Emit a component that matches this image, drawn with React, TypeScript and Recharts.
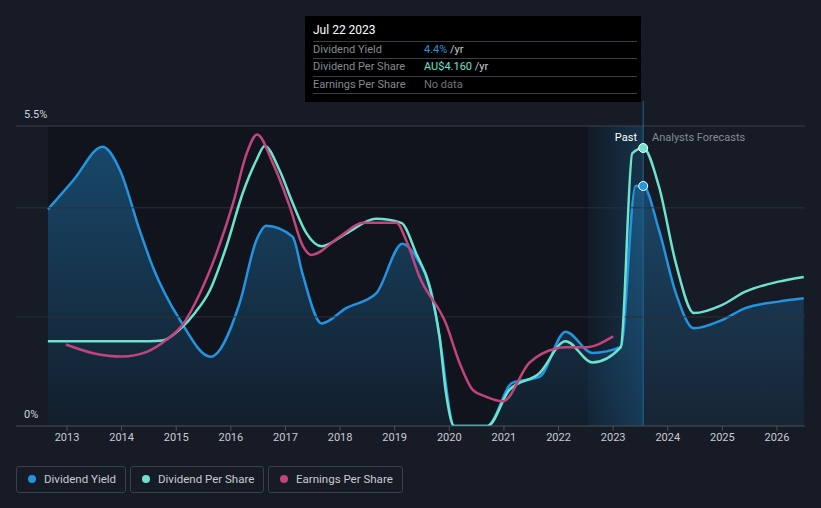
import React from 'react';
import {
  ComposedChart,
  Line,
  Area,
  XAxis,
  YAxis,
  ReferenceLine,
  ReferenceArea,
  ReferenceDot,
} from 'recharts';

// ---- data ----
const yearTicks = [2013, 2014, 2015, 2016, 2017, 2018, 2019, 2020, 2021, 2022, 2023, 2024, 2025, 2026];
const yieldLabels = [
  { v: 0, label: '0%' },
  { v: 5.5, label: '5.5%' },
];
const gridValues = [2, 4];

// Dividend yield (%)
const dividendYield = [
  { x: 2012.65, v: 3.97 },
  { x: 2013.12, v: 4.51 },
  { x: 2013.65, v: 5.12 },
  { x: 2013.97, v: 4.69 },
  { x: 2014.33, v: 3.59 },
  { x: 2014.57, v: 2.92 },
  { x: 2015.07, v: 1.94 },
  { x: 2015.63, v: 1.27 },
  { x: 2016.16, v: 2.25 },
  { x: 2016.47, v: 3.41 },
  { x: 2016.65, v: 3.67 },
  { x: 2017.13, v: 3.47 },
  { x: 2017.31, v: 2.8 },
  { x: 2017.66, v: 1.88 },
  { x: 2018.11, v: 2.16 },
  { x: 2018.66, v: 2.43 },
  { x: 2019.14, v: 3.34 },
  { x: 2019.39, v: 3.1 },
  { x: 2019.69, v: 2.37 },
  { x: 2019.82, v: 1.64 },
  { x: 2020.09, v: 0 },
  { x: 2020.7, v: 0 },
  { x: 2021.15, v: 0.79 },
  { x: 2021.65, v: 0.9 },
  { x: 2022.13, v: 1.73 },
  { x: 2022.62, v: 1.34 },
  { x: 2023.14, v: 1.45 },
  { x: 2023.41, v: 4.4 },
  { x: 2023.55, v: 4.4 },
  { x: 2023.84, v: 3.59 },
  { x: 2024.15, v: 2.43 },
  { x: 2024.48, v: 1.79 },
  { x: 2024.99, v: 1.94 },
  { x: 2025.42, v: 2.16 },
  { x: 2026.03, v: 2.28 },
  { x: 2026.49, v: 2.34 },
];

// Dividend per share (AU$)
const dividendPerShare = [
  { x: 2012.65, v: 1.27 },
  { x: 2013.5, v: 1.27 },
  { x: 2014.5, v: 1.27 },
  { x: 2014.75, v: 1.28 },
  { x: 2015.07, v: 1.45 },
  { x: 2015.35, v: 1.7 },
  { x: 2015.61, v: 2.02 },
  { x: 2015.92, v: 2.69 },
  { x: 2016.22, v: 3.49 },
  { x: 2016.47, v: 3.98 },
  { x: 2016.62, v: 4.19 },
  { x: 2016.89, v: 3.83 },
  { x: 2017.13, v: 3.34 },
  { x: 2017.38, v: 2.89 },
  { x: 2017.66, v: 2.69 },
  { x: 2018.11, v: 2.88 },
  { x: 2018.66, v: 3.1 },
  { x: 2019.12, v: 3.04 },
  { x: 2019.39, v: 2.59 },
  { x: 2019.64, v: 2.08 },
  { x: 2019.82, v: 1.34 },
  { x: 2019.94, v: 0.49 },
  { x: 2020.09, v: 0 },
  { x: 2020.7, v: 0 },
  { x: 2021.1, v: 0.54 },
  { x: 2021.65, v: 0.79 },
  { x: 2022.13, v: 1.27 },
  { x: 2022.62, v: 0.95 },
  { x: 2023.14, v: 1.18 },
  { x: 2023.35, v: 4.08 },
  { x: 2023.55, v: 4.16 },
  { x: 2023.84, v: 3.58 },
  { x: 2024.15, v: 2.43 },
  { x: 2024.48, v: 1.69 },
  { x: 2024.99, v: 1.81 },
  { x: 2025.42, v: 2.01 },
  { x: 2026.03, v: 2.16 },
  { x: 2026.49, v: 2.23 },
];

// Earnings per share (AU$)
const earningsPerShare = [
  { x: 2012.98, v: 1.22 },
  { x: 2013.48, v: 1.09 },
  { x: 2014.0, v: 1.04 },
  { x: 2014.46, v: 1.11 },
  { x: 2014.82, v: 1.29 },
  { x: 2015.13, v: 1.53 },
  { x: 2015.43, v: 1.98 },
  { x: 2015.74, v: 2.59 },
  { x: 2016.04, v: 3.33 },
  { x: 2016.29, v: 4.08 },
  { x: 2016.48, v: 4.36 },
  { x: 2016.77, v: 3.93 },
  { x: 2017.08, v: 3.28 },
  { x: 2017.32, v: 2.69 },
  { x: 2017.47, v: 2.56 },
  { x: 2017.99, v: 2.83 },
  { x: 2018.42, v: 3.04 },
  { x: 2019.03, v: 3.04 },
  { x: 2019.21, v: 2.78 },
  { x: 2019.45, v: 2.24 },
  { x: 2019.94, v: 1.53 },
  { x: 2020.19, v: 0.94 },
  { x: 2020.43, v: 0.54 },
  { x: 2020.67, v: 0.44 },
  { x: 2020.98, v: 0.37 },
  { x: 2021.46, v: 0.94 },
  { x: 2021.95, v: 1.16 },
  { x: 2022.13, v: 1.18 },
  { x: 2022.5, v: 1.18 },
  { x: 2023.0, v: 1.34 },
];

const xDomain = [2012.066, 2026.513];
const dataStart = 2012.65;
const pastBandStart = 2022.54;
const hoverX = 2023.55;
const hoverYield = 4.4;
const hoverDps = 4.16;
const cursorTop = 5.96;

const C_YIELD = '#2394df';
const C_DPS = '#6de3cf';
const C_EPS = '#c2447f';
const BG = '#161b25';
const FONT = 'Roboto, "Noto Sans", sans-serif';

const legendItems = [
  { label: 'Dividend Yield', color: C_YIELD, left: 16, width: 110 },
  { label: 'Dividend Per Share', color: C_DPS, left: 130, width: 134 },
  { label: 'Earnings Per Share', color: C_EPS, left: 268, width: 135 },
];

const makeYLabel = (text: string) => (props: any) => {
  const vb = props.viewBox || {};
  return (
    <text x={(vb.x ?? 16) + 8} y={(vb.y ?? 0) - 8} fill="#d0d3d8" fontSize={11} fontFamily={FONT}>
      {text}
    </text>
  );
};

export default function App() {
  return (
    <div
      style={{
        position: 'absolute',
        left: 0,
        top: 0,
        width: 821,
        height: 508,
        background: BG,
        fontFamily: FONT,
        overflow: 'hidden',
      }}
    >
      <ComposedChart
        width={821}
        height={508}
        margin={{ top: 126, right: 16, bottom: 52, left: 16 }}
      >
        <defs>
          <linearGradient id="yieldFill" x1="0" y1="0" x2="0" y2="1">
            <stop offset="0%" stopColor={C_YIELD} stopOpacity={0.4} />
            <stop offset="100%" stopColor={C_YIELD} stopOpacity={0.08} />
          </linearGradient>
          <linearGradient id="pastBand" x1="0" y1="0" x2="1" y2="0">
            <stop offset="0%" stopColor="#2580c0" stopOpacity={0.06} />
            <stop offset="100%" stopColor="#2580c0" stopOpacity={0.28} />
          </linearGradient>
        </defs>
        <XAxis
          xAxisId="x"
          type="number"
          dataKey="x"
          domain={xDomain}
          ticks={yearTicks}
          allowDataOverflow
          height={30}
          tickSize={5}
          tickLine={{ stroke: '#4a515c' }}
          axisLine={{ stroke: '#4a515c' }}
          tick={{ fill: '#c9ccd1', fontSize: 11, fontFamily: FONT }}
          interval={0}
        />
        <YAxis yAxisId="y" type="number" domain={[0, 5.5]} hide allowDataOverflow />
        <YAxis yAxisId="dps" type="number" domain={[0, 4.489]} hide allowDataOverflow />
        <YAxis yAxisId="eps" type="number" domain={[0, 4.489]} hide allowDataOverflow />

        <ReferenceArea
          xAxisId="x"
          yAxisId="y"
          x1={dataStart}
          x2={hoverX}
          y1={0}
          y2={5.5}
          fill="#0b0e13"
          fillOpacity={0.5}
          stroke="none"
        />
        <ReferenceArea
          xAxisId="x"
          yAxisId="y"
          x1={pastBandStart}
          x2={hoverX}
          y1={0}
          y2={5.5}
          fill="url(#pastBand)"
          fillOpacity={1}
          stroke="none"
        />
        {gridValues.map((g) => (
          <ReferenceLine key={g} xAxisId="x" yAxisId="y" y={g} stroke="#2a303a" strokeWidth={1} />
        ))}
        <ReferenceLine
          xAxisId="x"
          yAxisId="y"
          y={yieldLabels[1].v}
          stroke="#3c424c"
          strokeWidth={1}
          label={makeYLabel(yieldLabels[1].label)}
        />
        <ReferenceLine
          xAxisId="x"
          yAxisId="y"
          y={yieldLabels[0].v}
          stroke="none"
          label={makeYLabel(yieldLabels[0].label)}
        />

        <Area
          xAxisId="x"
          yAxisId="y"
          data={dividendYield}
          dataKey="v"
          type="monotone"
          stroke={C_YIELD}
          strokeWidth={2.5}
          fill="url(#yieldFill)"
          fillOpacity={1}
          dot={false}
          activeDot={false}
          isAnimationActive={false}
        />
        <Line
          xAxisId="x"
          yAxisId="dps"
          data={dividendPerShare}
          dataKey="v"
          type="monotone"
          stroke={C_DPS}
          strokeWidth={2.5}
          dot={false}
          activeDot={false}
          isAnimationActive={false}
        />
        <Line
          xAxisId="x"
          yAxisId="eps"
          data={earningsPerShare}
          dataKey="v"
          type="monotone"
          stroke={C_EPS}
          strokeWidth={2.5}
          dot={false}
          activeDot={false}
          isAnimationActive={false}
        />
        <ReferenceLine
          xAxisId="x"
          yAxisId="y"
          segment={[
            { x: hoverX, y: 0 },
            { x: hoverX, y: cursorTop },
          ]}
          ifOverflow="visible"
          stroke="#1f6796"
          strokeWidth={1}
        />
        <ReferenceDot
          xAxisId="x"
          yAxisId="y"
          x={hoverX}
          y={hoverYield}
          r={4.5}
          fill={C_YIELD}
          stroke="#ffffff"
          strokeWidth={1}
        />
        <ReferenceDot
          xAxisId="x"
          yAxisId="dps"
          x={hoverX}
          y={hoverDps}
          r={4.5}
          fill={C_DPS}
          stroke="#ffffff"
          strokeWidth={1}
        />
      </ComposedChart>

      {/* Past / forecast labels */}
      <div
        style={{
          position: 'absolute',
          right: 821 - 637,
          top: 130,
          fontSize: 11,
          color: '#ffffff',
          lineHeight: '15px',
        }}
      >
        Past
      </div>
      <div
        style={{
          position: 'absolute',
          left: 652,
          top: 130,
          fontSize: 11,
          color: '#868b93',
          lineHeight: '15px',
        }}
      >
        Analysts Forecasts
      </div>

      {/* Tooltip */}
      <div
        style={{
          position: 'absolute',
          left: 305,
          top: 16,
          width: 336,
          height: 86,
          background: '#000000',
        }}
      >
        <div style={{ position: 'absolute', left: 8, top: 7, fontSize: 12, color: '#ffffff', lineHeight: '15px' }}>
          Jul 22 2023
        </div>
        {[25, 42, 60, 77].map((t) => (
          <div
            key={t}
            style={{ position: 'absolute', left: 8, top: t, width: 324, height: 1, background: '#3a3e45' }}
          />
        ))}
        {[
          { label: 'Dividend Yield', top: 26, value: '4.4%', color: C_YIELD, suffix: ' /yr' },
          { label: 'Dividend Per Share', top: 43, value: 'AU$4.160', color: C_DPS, suffix: ' /yr' },
          { label: 'Earnings Per Share', top: 61, value: 'No data', color: '#6f747b', suffix: '' },
        ].map((r) => (
          <React.Fragment key={r.label}>
            <div style={{ position: 'absolute', left: 8, top: r.top, fontSize: 11, color: '#858a91', lineHeight: '15px' }}>
              {r.label}
            </div>
            <div style={{ position: 'absolute', left: 119, top: r.top, fontSize: 11, lineHeight: '15px' }}>
              <span style={{ color: r.color }}>{r.value}</span>
              <span style={{ color: '#c9ccd1' }}>{r.suffix}</span>
            </div>
          </React.Fragment>
        ))}
      </div>

      {/* Legend */}
      {legendItems.map((it) => (
        <div
          key={it.label}
          style={{
            position: 'absolute',
            left: it.left,
            top: 466,
            width: it.width,
            height: 27,
            boxSizing: 'border-box',
            border: '1px solid #3a414c',
            borderRadius: 3,
          }}
        >
          <div
            style={{
              position: 'absolute',
              left: 11,
              top: 8,
              width: 8,
              height: 8,
              borderRadius: 4,
              background: it.color,
            }}
          />
          <div
            style={{
              position: 'absolute',
              left: 27,
              top: 5,
              fontSize: 11.5,
              color: '#c9ccd1',
              lineHeight: '15px',
              whiteSpace: 'nowrap',
            }}
          >
            {it.label}
          </div>
        </div>
      ))}
    </div>
  );
}
